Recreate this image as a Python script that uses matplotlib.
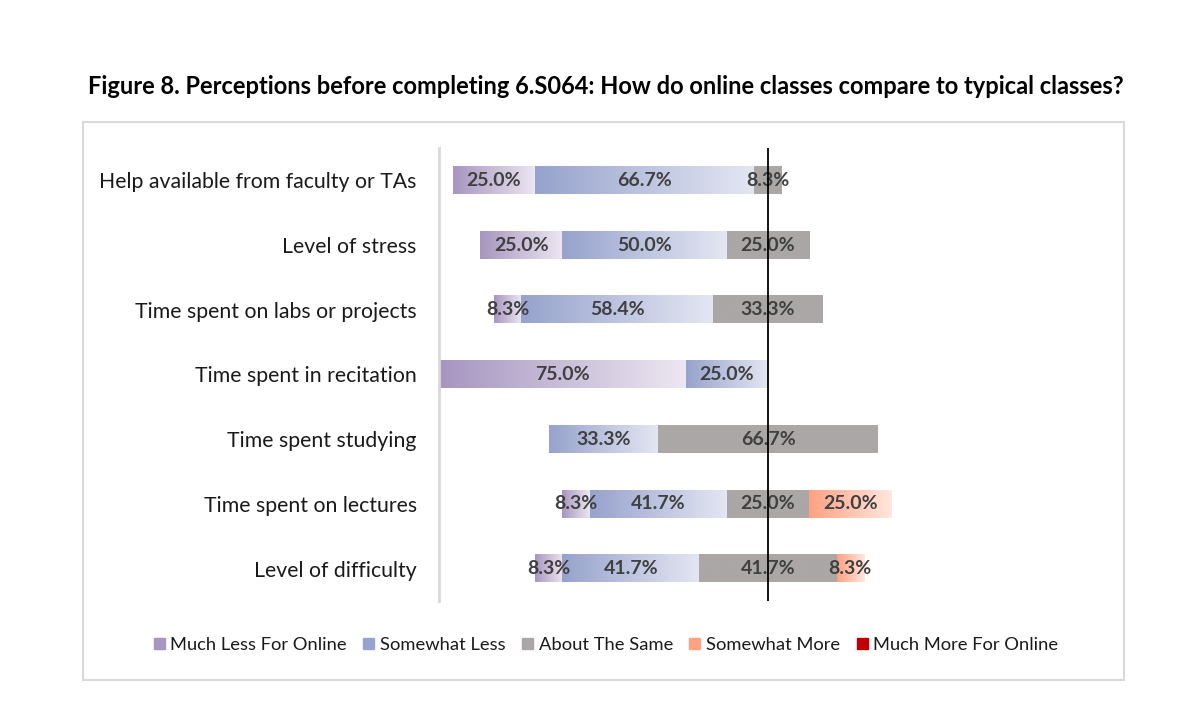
import numpy as np
import matplotlib
matplotlib.use("Agg")
import matplotlib.pyplot as plt
from matplotlib.colors import LinearSegmentedColormap
from matplotlib.patches import Rectangle

plt.rcParams['font.family'] = ['Lato', 'DejaVu Sans']

categories = ["Help available from faculty or TAs", "Level of stress",
              "Time spent on labs or projects", "Time spent in recitation",
              "Time spent studying", "Time spent on lectures", "Level of difficulty"]
series = ["Much Less For Online", "Somewhat Less", "About The Same",
          "Somewhat More", "Much More For Online"]
much_less = [25.0, 25.0, 8.3, 75.0, 0.0, 8.3, 8.3]
somewhat_less = [66.7, 50.0, 58.4, 25.0, 33.3, 41.7, 41.7]
same = [8.3, 25.0, 33.3, 0.0, 66.7, 25.0, 41.7]
somewhat_more = [0.0, 0.0, 0.0, 0.0, 0.0, 25.0, 8.3]
much_more = [0.0, 0.0, 0.0, 0.0, 0.0, 0.0, 0.0]

values = np.array([much_less, somewhat_less, same, somewhat_more, much_more])
# gradient (left colour, right colour) per series
grads = [("#a796c0", "#ece6f1"), ("#97a3cd", "#e3e6f2"), ("#aba7a7", "#aba7a7"),
         ("#ffa283", "#ffe6dd"), ("#c00000", "#ffffff")]

fig = plt.figure(figsize=(11.93, 7.27), dpi=100)
W, H = 1193, 727

# outer frame
fig.patches.append(Rectangle((82.5 / W, 1 - 680 / H), (1124 - 82.5) / W, (680 - 122) / H,
                             transform=fig.transFigure, fill=False,
                             edgecolor="#d9d9d9", linewidth=1.5))

fig.text(606 / W, 1 - 87 / H,
         "Figure 8. Perceptions before completing 6.S064: How do online classes compare to typical classes?",
         ha="center", va="center", fontsize=17, fontweight="bold", color="black")

ax = fig.add_axes([439 / W, 1 - 601 / H, 658 / W, 453 / H])

y = np.arange(len(categories))
# offset so that the middle of "About The Same" sits at zero
left = -(values[0] + values[1] + values[2] / 2)
bar_h = 0.42

for i in range(len(series)):
    bars = ax.barh(y, values[i], left=left, height=bar_h, color=grads[i][0],
                   linewidth=0, label=series[i])
    cmap = LinearSegmentedColormap.from_list("g%d" % i, grads[i])
    for b, v in zip(bars, values[i]):
        if v <= 0:
            continue
        x0, w = b.get_x(), b.get_width()
        y0, h = b.get_y(), b.get_height()
        ax.imshow(np.linspace(0, 1, 64).reshape(1, -1), cmap=cmap, aspect="auto",
                  extent=[x0, x0 + w, y0 + h, y0], zorder=2, interpolation="bilinear")
        ax.text(x0 + w / 2, y0 + h / 2, "%.1f%%" % v, ha="center", va="center",
                fontsize=14, fontweight="bold", color="#404040", zorder=4)
    left = left + values[i]

ax.axvline(0, color="black", linewidth=1.3, zorder=5)
ax.set_xlim(-100, 100)
ax.set_ylim(len(categories) - 0.5, -0.5)
ax.set_yticks(y)
ax.set_yticklabels(categories, fontsize=15.3, color="#1a1a1a")
ax.tick_params(axis="y", length=0, pad=16)
ax.set_xticks([])
for s in ["top", "right", "bottom"]:
    ax.spines[s].set_visible(False)
ax.spines["left"].set_color("#d9d9d9")
ax.spines["left"].set_linewidth(2)
ax.patch.set_alpha(0)

handles = [Rectangle((0, 0), 1, 1, color=grads[i][0]) for i in range(len(series))]
fig.legend(handles, series, loc="center", bbox_to_anchor=(606 / W, 1 - 645 / H), ncol=5,
           frameon=False, fontsize=13.2, handlelength=0.6, handleheight=0.6,
           handletextpad=0.3, columnspacing=0.9, labelcolor="#1a1a1a")

fig.savefig("out.png", dpi=100)
